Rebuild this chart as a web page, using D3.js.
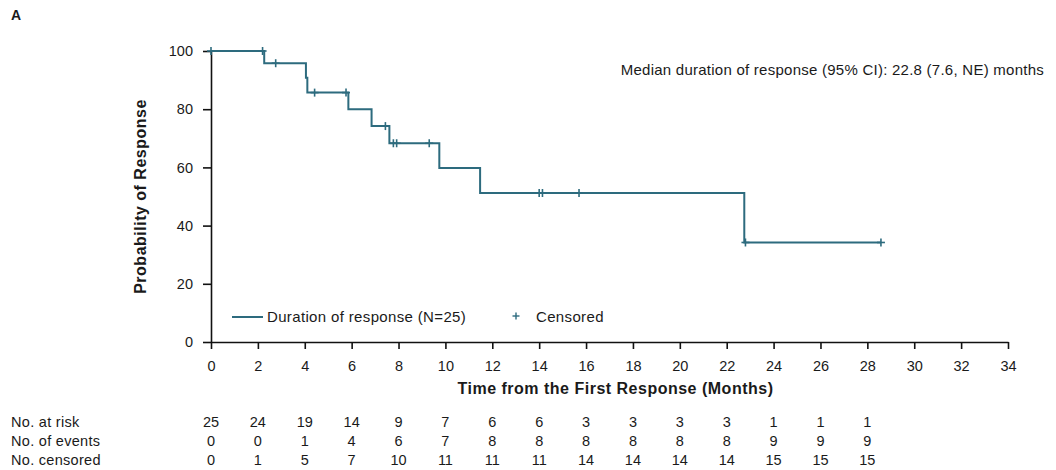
<!DOCTYPE html>
<html>
<head>
<meta charset="utf-8">
<script src="https://cdn.jsdelivr.net/npm/d3@7"></script>
<style>
  body { margin: 0; background: #fff; }
  text { font-family: "Liberation Sans", Arial, Helvetica, sans-serif; fill: #1a1a1a; }
</style>
</head>
<body>
<div id="chart"></div>
<script>
// Kaplan-Meier steps: time of each step and probability after it
var stepTimes = [0, 2.27, 4.05, 4.11, 5.86, 6.85, 7.61, 9.74, 11.48, 22.75];
var stepValues = [100, 95.8, 90.8, 85.7, 80.0, 74.2, 68.3, 59.8, 51.2, 34.2];
var lastTime = 28.58;

// censored observations (months)
var censorTimes = [0, 2.2, 2.76, 4.42, 5.76, 7.44, 7.78, 7.92, 9.31, 14.0, 14.14, 15.7, 22.8, 28.58];

var xTicks = d3.range(0, 36, 2);
var yTicks = [0, 20, 40, 60, 80, 100];

// numbers at risk table (at 0, 2, 4, ... 28)
var tableTimes = d3.range(0, 30, 2);
var atRisk = [25, 24, 19, 14, 9, 7, 6, 6, 3, 3, 3, 3, 1, 1, 1];
var events = [0, 0, 1, 4, 6, 7, 8, 8, 8, 8, 8, 8, 9, 9, 9];
var censored = [0, 1, 5, 7, 10, 11, 11, 11, 14, 14, 14, 14, 15, 15, 15];
var tableLabels = ["No. at risk", "No. of events", "No. censored"];

var curveColor = "#2d6b7e";

var svg = d3.select("#chart").append("svg").attr("width", 1056).attr("height", 470);

var margin = { left: 211, top: 51, right: 48, bottom: 128 };
var width = 1056 - margin.left - margin.right;
var height = 470 - margin.top - margin.bottom;

var chart = svg.append("g").attr("transform", "translate(" + margin.left + "," + margin.top + ")");

var x = d3.scaleLinear().domain([0, 34]).range([0, width]);
var y = d3.scaleLinear().domain([0, 100]).range([height, 0]);

// panel letter
svg.append("text").attr("x", 11).attr("y", 20)
    .style("font-weight", "bold").style("font-size", "14px").text("A");

// axes
var xAxis = chart.append("g")
    .attr("transform", "translate(0," + height + ")")
    .call(d3.axisBottom(x).tickValues(xTicks).tickSize(7).tickPadding(12).tickSizeOuter(0));
var yAxis = chart.append("g")
    .call(d3.axisLeft(y).tickValues(yTicks).tickSize(8).tickPadding(10).tickSizeOuter(0));

[xAxis, yAxis].forEach(function (a) {
    a.selectAll("path, line").attr("stroke", "#111").attr("stroke-width", 1.6);
    a.selectAll("text").style("font-size", "14.5px").attr("fill", "#1a1a1a")
        .style("font-family", "'Liberation Sans', Arial, sans-serif");
});

// axis titles
svg.append("text")
    .attr("transform", "translate(146," + (margin.top + height / 2) + ") rotate(-90)")
    .attr("text-anchor", "middle")
    .style("font-weight", "bold").style("font-size", "16px").style("letter-spacing", "0.5px")
    .text("Probability of Response");

svg.append("text")
    .attr("x", margin.left + width / 2 + 6).attr("y", 394)
    .attr("text-anchor", "middle")
    .style("font-weight", "bold").style("font-size", "16px").style("letter-spacing", "0.5px")
    .text("Time from the First Response (Months)");

// step curve
var pts = stepTimes.map(function (t, i) { return [t, stepValues[i]]; });
pts.push([lastTime, stepValues[stepValues.length - 1]]);

var line = d3.line()
    .x(d => x(d[0]))
    .y(d => y(d[1]))
    .curve(d3.curveStepAfter);

chart.append("path")
    .datum(pts)
    .attr("fill", "none")
    .attr("stroke", curveColor)
    .attr("stroke-width", 2)
    .attr("d", line);

// value of the curve at time t
function survAt(t) {
    var v = stepValues[0];
    for (var i = 0; i < stepTimes.length; i++) {
        if (stepTimes[i] <= t) v = stepValues[i];
    }
    return v;
}

var marks = chart.selectAll(".censor")
    .data(censorTimes)
    .enter().append("g")
    .attr("class", "censor")
    .attr("transform", d => "translate(" + x(d) + "," + y(survAt(d)) + ")");
marks.append("line").attr("x1", 0).attr("x2", 0).attr("y1", -4).attr("y2", 4)
    .attr("stroke", curveColor).attr("stroke-width", 1.6);
marks.append("line").attr("x1", -4).attr("x2", 4).attr("y1", 0).attr("y2", 0)
    .attr("stroke", curveColor).attr("stroke-width", 1.6);

// legend
var legend = svg.append("g").attr("transform", "translate(232,317)");
legend.append("line").attr("x1", 0).attr("x2", 31).attr("y1", 0).attr("y2", 0)
    .attr("stroke", curveColor).attr("stroke-width", 2);
legend.append("text").attr("x", 35).attr("y", 5).style("font-size", "15px").style("letter-spacing", "0.35px")
    .text("Duration of response (N=25)");
var lc = legend.append("g").attr("transform", "translate(284,-1)");
lc.append("line").attr("x1", 0).attr("x2", 0).attr("y1", -3.5).attr("y2", 3.5)
    .attr("stroke", curveColor).attr("stroke-width", 1.4);
lc.append("line").attr("x1", -3.5).attr("x2", 3.5).attr("y1", 0).attr("y2", 0)
    .attr("stroke", curveColor).attr("stroke-width", 1.4);
legend.append("text").attr("x", 304).attr("y", 5).style("font-size", "15px").style("letter-spacing", "0.35px")
    .text("Censored");

// median annotation
svg.append("text").attr("x", 1044).attr("y", 74.5)
    .attr("text-anchor", "end").style("font-size", "15px").style("letter-spacing", "0.25px")
    .text("Median duration of response (95% CI): 22.8 (7.6, NE) months");

// risk table
var rows = [atRisk, events, censored];
var rowY = [426.5, 445.5, 464.5];
rows.forEach(function (vals, r) {
    svg.append("text").attr("x", 11).attr("y", rowY[r])
        .style("font-size", "14.5px").style("letter-spacing", "0.3px").text(tableLabels[r]);
    svg.selectAll(".row" + r)
        .data(vals)
        .enter().append("text")
        .attr("class", "row" + r)
        .attr("x", (d, i) => margin.left + x(tableTimes[i]))
        .attr("y", rowY[r])
        .attr("text-anchor", "middle")
        .style("font-size", "14.5px")
        .text(d => d);
});
</script>
</body>
</html>
